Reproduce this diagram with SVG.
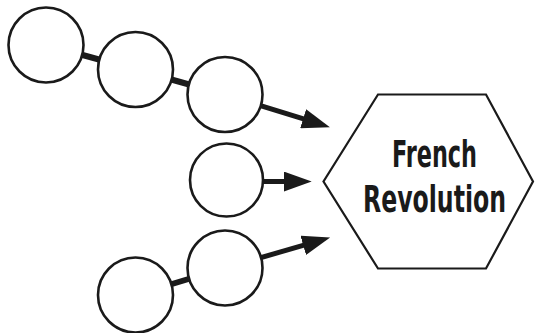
<svg xmlns="http://www.w3.org/2000/svg" width="535" height="333" viewBox="0 0 535 333">
<style>
.c{fill:#fff;stroke:#1a1a1a;stroke-width:2.6}
.link{stroke:#1a1a1a;stroke-width:6;fill:none}
.arr{stroke:#1a1a1a;stroke-width:5;fill:none;marker-end:url(#ah)}
.hex{fill:#fff;stroke:#1a1a1a;stroke-width:2.2}
.t{font-family:"DejaVu Sans Condensed","DejaVu Sans",sans-serif;font-weight:bold;font-stretch:condensed;font-size:37px;fill:#1a1a1a;text-anchor:middle}
</style>
<defs>
<marker id="ah" markerUnits="userSpaceOnUse" viewBox="0 0 28 20" refX="8" refY="10" markerWidth="28" markerHeight="20" orient="auto">
<path d="M0,0 L28,10 L0,20 z" fill="#1a1a1a"/>
</marker>
</defs>
<g id="connectors">
<line class="link" x1="46" y1="45" x2="135.5" y2="69.5"/>
<line class="link" x1="135.5" y1="69.5" x2="225" y2="94.5"/>
<line class="link" x1="135.5" y1="295" x2="225" y2="268"/>
<line class="arr" x1="225" y1="94.5" x2="310.8" y2="121.2"/>
<line class="arr" x1="226.5" y1="181.5" x2="291.7" y2="181.5"/>
<line class="arr" x1="225" y1="268" x2="310.9" y2="243.1"/>
</g>
<g id="n1"><circle class="c" cx="46" cy="45" r="37.5"/></g>
<g id="n2"><circle class="c" cx="135.5" cy="69.5" r="37.5"/></g>
<g id="n3"><circle class="c" cx="225" cy="94.5" r="37.5"/></g>
<g id="n4"><circle class="c" cx="226.5" cy="180" r="36.5"/></g>
<g id="n5"><circle class="c" cx="225" cy="268" r="37.5"/></g>
<g id="n6"><circle class="c" cx="135.5" cy="295" r="37.5"/></g>
<g id="french-revolution">
<polygon class="hex" points="378,94.5 486,94.5 533,181.5 486,268.5 378,268.5 323.5,181.5"/>
<g transform="translate(434.5,0) scale(0.79,1)">
<text class="t" x="0" y="167" textLength="107.6" lengthAdjust="spacingAndGlyphs">French</text>
<text class="t" x="0" y="212" textLength="181" lengthAdjust="spacingAndGlyphs">Revolution</text>
</g>
</g>
</svg>
